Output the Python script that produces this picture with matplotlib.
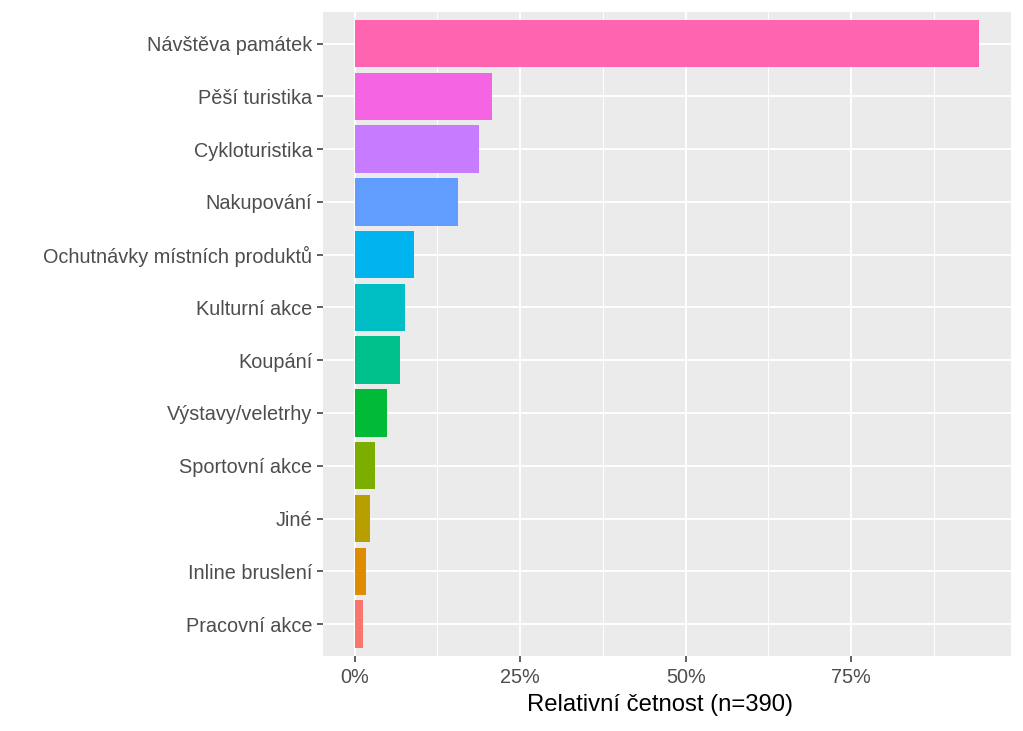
import matplotlib
matplotlib.use("Agg")
import matplotlib.pyplot as plt
import numpy as np
from matplotlib.ticker import FixedLocator, PercentFormatter

categories = ["Pracovní akce", "Inline bruslení", "Jiné", "Sportovní akce",
              "Výstavy/veletrhy", "Koupání", "Kulturní akce",
              "Ochutnávky místních produktů", "Nakupování", "Cykloturistika",
              "Pěší turistika", "Návštěva památek"]
counts = [5, 7, 9, 12, 19, 27, 30, 35, 61, 73, 81, 368]
n_total = 390
colors = ["#F8766D", "#DE8C00", "#B79F00", "#7CAE00", "#00BA38", "#00C08B",
          "#00BFC4", "#00B4F0", "#619CFF", "#C77CFF", "#F564E3", "#FF64B0"]
x_ticks = [0, 25, 50, 75]
x_minor = [12.5, 37.5, 62.5, 87.5]

values = [c / n_total * 100 for c in counts]

plt.rcParams['font.family'] = ['Liberation Sans', 'DejaVu Sans']

fig = plt.figure(figsize=(10.23, 7.31), dpi=100)
left, right, top, bottom = 323.3, 1010.7, 12, 655.7
ax = fig.add_axes([left/1023, 1 - bottom/731, (right-left)/1023, (bottom-top)/731])
ax.set_facecolor("#EBEBEB")

y = np.arange(len(categories))
ax.barh(y, values, height=0.9, color=colors, zorder=3)

vmax = max(values)
ax.set_xlim(-0.05*vmax, vmax*1.05)
ax.set_ylim(-0.6, len(categories) - 0.4)

ax.xaxis.set_major_locator(FixedLocator(x_ticks))
ax.xaxis.set_minor_locator(FixedLocator(x_minor))
ax.xaxis.set_major_formatter(PercentFormatter(decimals=0))
ax.set_yticks(y)
ax.set_yticklabels(categories)

ax.grid(which="major", color="white", linewidth=1.4, zorder=1)
ax.grid(which="minor", axis="x", color="white", linewidth=0.7, zorder=1)
ax.set_axisbelow(True)

for s in ax.spines.values():
    s.set_visible(False)

ax.tick_params(axis="y", which="major", length=4, width=1.1, color="#333333",
               labelcolor="#4D4D4D", labelsize=14.3, pad=4)
ax.tick_params(axis="x", which="major", length=4, width=1.1, color="#333333",
               labelcolor="#4D4D4D", labelsize=14.3, pad=5)
ax.tick_params(axis="x", which="minor", length=0)

ax.set_xlabel("Relativní četnost (n=390)", fontsize=17.2, color="black")
ax.xaxis.set_label_coords(0.49, -0.060)
ax.xaxis.label.set_verticalalignment("top")

fig.savefig("out.png", dpi=100, facecolor="white")
